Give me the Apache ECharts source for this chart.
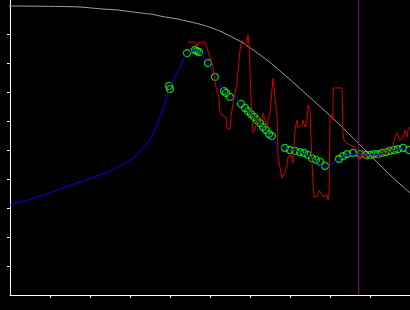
<!DOCTYPE html>
<html><head><meta charset="utf-8">
<script src="https://cdn.jsdelivr.net/npm/echarts@6/dist/echarts.min.js"></script>
<style>html,body{margin:0;padding:0;background:#000}#c{width:410px;height:310px}</style>
</head><body><div id="c"></div>
<script>
const tickValues = [1,2,3,4,5,6,7,8,9];
const markerX = 8.7;
const grayCurve = [[-0.25,9.97],[1.2,9.95],[1.75,9.93],[2.325,9.86],[2.675,9.83],[3.175,9.74],[3.55,9.68],[3.825,9.60],[4.175,9.52],[4.5,9.42],[4.825,9.31],[5.25,9.10],[5.825,8.69],[6.425,8.10],[6.925,7.52],[7.425,6.90],[7.925,6.28],[8.25,5.86],[8.675,5.28],[9.075,4.72],[9.5,4.14],[10.0,3.52]];
const blueLine = [[0,3.10],[0.75,3.41],[1.75,3.90],[2.25,4.14],[2.5,4.28],[2.75,4.45],[3.0,4.66],[3.175,4.83],[3.325,5.07],[3.5,5.34],[3.625,5.69],[3.75,6.14],[3.875,6.62],[4.0,7.17],[4.25,7.86],[4.425,8.34],[4.675,8.45],[4.95,8.0],[5.15,7.48],[5.375,7.0],[5.525,6.83],[5.8,6.59],[6.0,6.28],[6.25,5.93],[6.5,5.45],[6.75,5.10],[6.875,5.07],[7.25,4.93],[7.5,4.76],[7.75,4.48],[7.875,4.41],[8.0,4.48],[8.2,4.66],[8.425,4.83],[8.75,4.86],[9.075,4.83],[9.425,4.90],[9.825,5.07],[10.0,4.97]];
const greenPoints = [[3.975,7.21],[4.0,7.10],[4.425,8.34],[4.625,8.45],[4.675,8.41],[4.725,8.38],[4.95,8.0],[5.125,7.52],[5.35,7.03],[5.4,6.97],[5.5,6.83],[5.775,6.59],[5.875,6.45],[5.95,6.34],[6.025,6.24],[6.1,6.14],[6.175,6.03],[6.25,5.93],[6.325,5.79],[6.4,5.69],[6.475,5.55],[6.55,5.48],[6.875,5.07],[7.0,5.0],[7.125,4.97],[7.25,4.93],[7.35,4.90],[7.45,4.83],[7.55,4.72],[7.65,4.66],[7.75,4.59],[7.875,4.45],[8.225,4.69],[8.325,4.79],[8.425,4.86],[8.575,4.90],[8.75,4.86],[8.9,4.83],[9.0,4.83],[9.1,4.86],[9.2,4.86],[9.3,4.90],[9.4,4.93],[9.5,4.97],[9.6,5.0],[9.7,5.03],[9.825,5.07],[9.975,5.0]];
const redLine = [[4.45,8.72],[4.65,8.72],[4.675,8.55],[4.725,8.72],[4.875,8.72],[5.05,8.0],[5.15,7.17],[5.225,6.79],[5.25,6.28],[5.3,6.21],[5.4,6.14],[5.425,5.76],[5.5,5.72],[5.525,6.14],[5.575,6.62],[5.675,7.31],[5.75,8.45],[5.8,8.79],[5.875,8.62],[5.925,8.72],[5.95,8.97],[5.975,8.55],[6.0,7.76],[6.025,6.83],[6.075,5.59],[6.125,5.69],[6.2,6.14],[6.3,6.03],[6.325,6.28],[6.425,5.79],[6.45,6.03],[6.5,6.28],[6.575,7.48],[6.625,7.48],[6.675,6.14],[6.7,4.76],[6.75,4.41],[6.8,4.03],[6.825,4.07],[6.875,4.21],[6.925,4.48],[6.95,4.76],[7.025,4.83],[7.075,4.55],[7.125,5.69],[7.175,6.03],[7.2,5.76],[7.3,5.86],[7.325,6.03],[7.375,5.79],[7.425,6.03],[7.45,6.55],[7.5,6.38],[7.525,5.45],[7.55,4.55],[7.575,3.86],[7.6,3.38],[7.675,3.38],[7.725,3.62],[7.8,3.45],[7.85,3.38],[7.925,3.45],[7.95,3.28],[7.975,3.45],[8.0,6.14],[8.05,6.21],[8.075,6.03],[8.08,7.14],[8.3,7.14],[8.325,5.59],[8.35,5.34],[8.425,5.24],[8.5,5.17],[8.625,5.10],[8.7,4.93],[8.75,4.66],[8.8,4.90],[8.825,4.72],[8.875,4.90],[8.925,4.66],[9.0,4.76],[9.075,4.90],[9.175,4.76],[9.25,4.72],[9.3,4.90],[9.375,5.07],[9.45,4.90],[9.55,5.0],[9.625,5.45],[9.675,5.59],[9.725,5.59],[9.75,5.34],[9.825,5.41],[9.875,5.69],[9.925,5.45],[9.95,5.69],[10.0,5.79]];

const chart = echarts.init(document.getElementById('c'), null, {renderer:'canvas'});
chart.setOption({
  backgroundColor:'#000',
  animation:false,
  grid:{left:10,right:0,top:0,bottom:15},
  xAxis:{type:'value',min:0,max:10,
    axisLine:{lineStyle:{color:'#fff',width:1}},
    axisTick:{show:true,length:3,customValues:tickValues,lineStyle:{color:'#fff'}},
    axisLabel:{show:false},splitLine:{show:false}},
  yAxis:{type:'value',min:0,max:10.1724,
    axisLine:{show:true,lineStyle:{color:'#fff',width:1}},
    axisTick:{show:true,length:3,customValues:tickValues,lineStyle:{color:'#fff'}},
    axisLabel:{show:false},splitLine:{show:false}},
  series:[
    {type:'line',data:grayCurve,smooth:0.2,symbol:'none',clip:false,lineStyle:{color:'#a0a0a0',width:1},
      markLine:{silent:true,symbol:'none',label:{show:false},lineStyle:{color:'#800080',width:1,type:'solid'},data:[{xAxis:markerX}]}},
    {type:'line',data:blueLine,smooth:0.2,symbol:'none',lineStyle:{color:'#0000ff',width:1}},
    {type:'line',data:redLine,symbol:'none',lineStyle:{color:'#d00000',width:1}},
    {type:'scatter',data:greenPoints,symbol:'circle',symbolSize:7,itemStyle:{color:'rgba(0,0,0,0)',borderColor:'#00ff00',borderWidth:1.3}}
  ]
});
</script></body></html>
